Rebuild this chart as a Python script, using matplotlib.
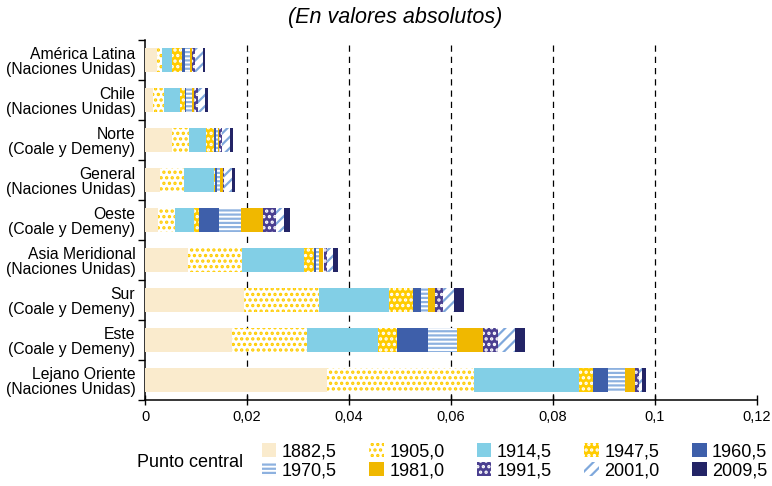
import numpy as np
import matplotlib
matplotlib.use("Agg")
import matplotlib.pyplot as plt
from matplotlib.ticker import FuncFormatter, FixedLocator

plt.rcParams['font.family'] = ['Liberation Sans', 'DejaVu Sans']
plt.rcParams['hatch.linewidth'] = 1.6

# categories, top to bottom
categories = ["América Latina\n(Naciones Unidas)", "Chile\n(Naciones Unidas)",
              "Norte\n(Coale y Demeny)", "General\n(Naciones Unidas)",
              "Oeste\n(Coale y Demeny)", "Asia Meridional\n(Naciones Unidas)",
              "Sur\n(Coale y Demeny)", "Este\n(Coale y Demeny)",
              "Lejano Oriente\n(Naciones Unidas)"]

periods = ["1882,5", "1905,0", "1914,5", "1947,5", "1960,5",
           "1970,5", "1981,0", "1991,5", "2001,0", "2009,5"]

# segment widths
v1882 = [0.0024, 0.0016, 0.0053, 0.0029, 0.0026, 0.0085, 0.0195, 0.0170, 0.0357]
v1905 = [0.0009, 0.0021, 0.0033, 0.0047, 0.0033, 0.0105, 0.0146, 0.0147, 0.0288]
v1914 = [0.0020, 0.0031, 0.0033, 0.0059, 0.0037, 0.0121, 0.0138, 0.0139, 0.0206]
v1947 = [0.0020, 0.0010, 0.0016, 0.0003, 0.0010, 0.0021, 0.0047, 0.0038, 0.0028]
v1960 = [0.0005, 0.0003, 0.0004, 0.0003, 0.0039, 0.0004, 0.0016, 0.0060, 0.0029]
v1970 = [0.0010, 0.0012, 0.0005, 0.0007, 0.0043, 0.0005, 0.0012, 0.0058, 0.0033]
v1981 = [0.0005, 0.0003, 0.0002, 0.0004, 0.0043, 0.0009, 0.0015, 0.0051, 0.0020]
v1991 = [0.0006, 0.0007, 0.0005, 0.0003, 0.0025, 0.0006, 0.0016, 0.0029, 0.0007]
v2001 = [0.0014, 0.0015, 0.0016, 0.0015, 0.0016, 0.0012, 0.0020, 0.0034, 0.0007]
v2009 = [0.0005, 0.0006, 0.0006, 0.0006, 0.0012, 0.0010, 0.0020, 0.0020, 0.0007]
series = [v1882, v1905, v1914, v1947, v1960, v1970, v1981, v1991, v2001, v2009]

# (face, hatch colour, hatch)
styles = [("#FAEBCD", "#FAEBCD", None),
          ("white", "#FFCC00", "..."),
          ("#82CFE6", "#82CFE6", None),
          ("#FFCC00", "white", "..."),
          ("#3E5FAA", "#3E5FAA", None),
          ("white", "#8DB1DF", "----"),
          ("#F0B800", "#F0B800", None),
          ("#4A3F90", "white", "..."),
          ("white", "#7FA8DC", "///"),
          ("#232466", "#232466", None)]

fig = plt.figure(figsize=(7.72, 4.86), dpi=100)
ax = fig.add_axes([145/772, 1-400/486, 612/772, 360/486])

y = np.arange(len(categories))
left = np.zeros(len(categories))
handles = []
for vals, (fc, hc, h) in zip(series, styles):
    b = ax.barh(y, vals, left=left, height=0.62, color=fc, edgecolor=hc,
                hatch=h, linewidth=0, zorder=3)
    handles.append(b)
    left += np.array(vals)

ax.set_xlim(0, 0.12)
ax.set_ylim(8.5, -0.5)
for xv in [0.02, 0.04, 0.06, 0.08, 0.1]:
    ax.axvline(xv, color="black", lw=0.9, ls=(0, (5, 4)), zorder=1)

ax.set_xticks(np.arange(0, 0.121, 0.02))
ax.xaxis.set_major_formatter(FuncFormatter(lambda v, p: ("%g" % round(v, 3)).replace(".", ",")))
ax.tick_params(axis="x", direction="inout", length=7, width=1, labelsize=10.5, pad=4)

ax.yaxis.set_major_locator(FixedLocator(np.arange(-0.5, 9, 1)))
ax.yaxis.set_major_formatter(FuncFormatter(lambda v, p: ""))
ax.yaxis.set_minor_locator(FixedLocator(y))
ax.set_yticklabels(categories, minor=True)
ax.tick_params(axis="y", which="major", direction="out", length=5, width=1)
ax.tick_params(axis="y", which="minor", length=0, pad=7, labelsize=11.3)
for t in ax.get_yticklabels(minor=True):
    t.set_multialignment("right")
    t.set_linespacing(1.05)

for s in ["top", "right"]:
    ax.spines[s].set_visible(False)
ax.spines["left"].set_linewidth(1.1)
ax.spines["bottom"].set_linewidth(1.1)

fig.text(395/772, 1-18/486, "(En valores absolutos)", style="italic",
         fontsize=15.5, ha="center", va="center")

# legend: 5 columns x 2 rows, row-wise order
order = [0, 5, 1, 6, 2, 7, 3, 8, 4, 9]
fig.legend([handles[i] for i in order], [periods[i] for i in order], ncol=5,
           loc="center left", bbox_to_anchor=(262/772, 1-461.5/486), frameon=False,
           fontsize=13, handlelength=0.8, handleheight=0.8, handletextpad=0.3,
           columnspacing=1.8, labelspacing=0.1, borderpad=0, borderaxespad=0)
fig.text(137/772, 1-462/486, "Punto central", fontsize=13, ha="left", va="center")

fig.savefig("out.png", dpi=100)
